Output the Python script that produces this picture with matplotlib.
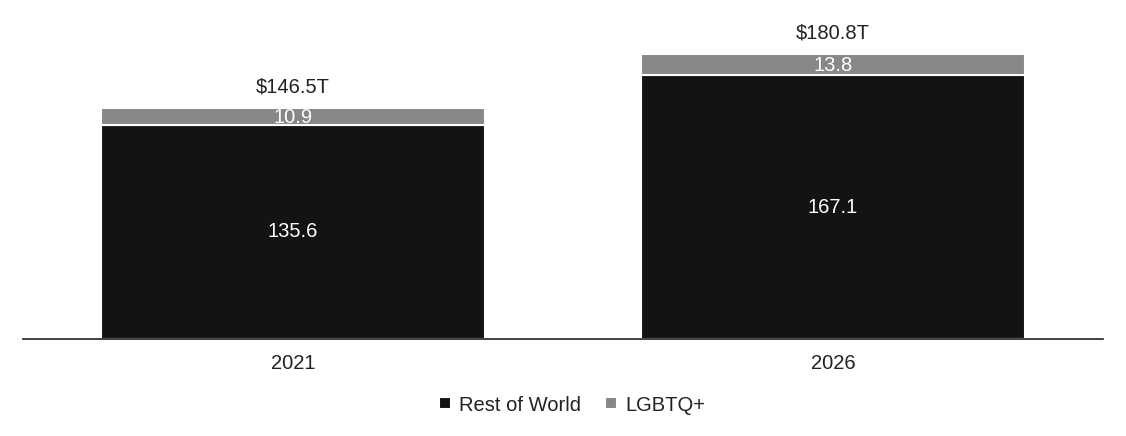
import matplotlib
matplotlib.use("Agg")
import matplotlib.pyplot as plt

plt.rcParams['font.family'] = ['Liberation Sans', 'DejaVu Sans']

years = ['2021', '2026']
rest_of_world = [135.6, 167.1]
lgbtq = [10.9, 13.8]
totals = ['$146.5T', '$180.8T']

dark = '#121411'
grey = '#878787'
text_col = '#222222'

fig = plt.figure(figsize=(11.26, 4.36), dpi=100)
ax = fig.add_axes([23 / 1126, 1 - 339 / 436, 1080 / 1126, 339 / 436])

x = range(len(years))
width = 0.711
b1 = ax.bar(x, rest_of_world, width, color=dark, edgecolor='white', linewidth=1.5, label='Rest of World')
b2 = ax.bar(x, lgbtq, width, bottom=rest_of_world, color=grey, edgecolor='white', linewidth=1.5, label='LGBTQ+')

fs = 14.5
for i in x:
    ax.text(i, rest_of_world[i] / 2, f"{rest_of_world[i]}", ha='center', va='center', color='white', fontsize=fs)
    ax.text(i, rest_of_world[i] + lgbtq[i] / 2 - 0.5, f"{lgbtq[i]}", ha='center', va='center', color='white', fontsize=fs)
    ax.text(i, rest_of_world[i] + lgbtq[i] + 13, totals[i], ha='center', va='center', color=text_col, fontsize=fs)

ax.set_xlim(-0.5, 1.5)
ax.set_ylim(0, 214.8)
ax.set_xticks(list(x))
ax.set_xticklabels(years, fontsize=fs, color=text_col)
ax.tick_params(axis='x', length=0, pad=11)
ax.set_yticks([])
for s in ['top', 'right', 'left']:
    ax.spines[s].set_visible(False)
ax.spines['bottom'].set_color('#222222')
ax.spines['bottom'].set_linewidth(1.2)

fig.legend(handles=[b1, b2], loc='center', bbox_to_anchor=(572 / 1126, 1 - 405 / 436), ncol=2, frameon=False,
           fontsize=fs, handlelength=0.6, handleheight=0.55, handletextpad=0.4, columnspacing=1.2,
           labelcolor=text_col)

fig.savefig('out.png', dpi=100)
